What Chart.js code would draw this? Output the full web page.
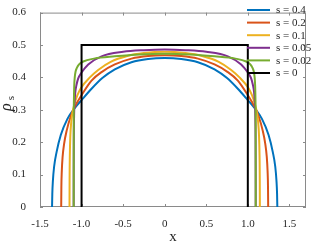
<!DOCTYPE html>
<html><head><meta charset="utf-8">
<script src="https://cdn.jsdelivr.net/npm/chart.js@4"></script>
<style>html,body{margin:0;padding:0;background:#fff;overflow:hidden}</style>
</head><body>
<canvas id="c" width="316" height="242" style="width:316px;height:242px;display:block"></canvas>
<script>
// ---- data ----
const seriesLabels = ['s = 0.4', 's = 0.2', 's = 0.1', 's = 0.05', 's = 0.02', 's = 0'];
const seriesColors = ['#0072BD', '#D95319', '#EDB120', '#7E2F8E', '#77AC30', '#000000'];

const x_s04 = [-1.355,-1.352,-1.345,-1.33,-1.30,-1.25,-1.17,-1.08,-1.0,-0.88,-0.75,-0.6,-0.4,-0.2,0,0.2,0.4,0.6,0.75,0.88,1.0,1.08,1.17,1.25,1.30,1.33,1.345,1.352,1.355];
const rho_s04 = [0,0.04,0.08,0.125,0.17,0.222,0.272,0.306,0.33,0.365,0.398,0.425,0.447,0.457,0.46,0.457,0.447,0.425,0.398,0.365,0.33,0.306,0.272,0.222,0.17,0.125,0.08,0.04,0];

const x_s02 = [-1.245,-1.243,-1.238,-1.228,-1.21,-1.18,-1.13,-1.08,-1.0,-0.88,-0.75,-0.6,-0.4,-0.2,0,0.2,0.4,0.6,0.75,0.88,1.0,1.08,1.13,1.18,1.21,1.228,1.238,1.243,1.245];
const rho_s02 = [0,0.06,0.11,0.155,0.195,0.235,0.28,0.31,0.345,0.39,0.418,0.44,0.458,0.466,0.468,0.466,0.458,0.44,0.418,0.39,0.345,0.31,0.28,0.235,0.195,0.155,0.11,0.06,0];

const x_s01 = [-1.145,-1.144,-1.141,-1.135,-1.125,-1.11,-1.085,-1.05,-1.0,-0.9,-0.8,-0.65,-0.45,-0.25,0,0.25,0.45,0.65,0.8,0.9,1.0,1.05,1.085,1.11,1.125,1.135,1.141,1.144,1.145];
const rho_s01 = [0,0.08,0.16,0.22,0.26,0.29,0.318,0.345,0.37,0.40,0.423,0.448,0.466,0.475,0.479,0.475,0.466,0.448,0.423,0.40,0.37,0.345,0.318,0.29,0.26,0.22,0.16,0.08,0];

const x_s005 = [-1.095,-1.0945,-1.093,-1.09,-1.085,-1.075,-1.06,-1.04,-1.0,-0.92,-0.76,-0.5,-0.25,0,0.25,0.5,0.76,0.92,1.0,1.04,1.06,1.075,1.085,1.09,1.093,1.0945,1.095];
const rho_s005 = [0,0.12,0.22,0.28,0.32,0.355,0.378,0.397,0.415,0.44,0.465,0.479,0.484,0.486,0.484,0.479,0.465,0.44,0.415,0.397,0.378,0.355,0.32,0.28,0.22,0.12,0];

const x_s002 = [-1.095,-1.0945,-1.094,-1.092,-1.088,-1.082,-1.072,-1.055,-1.03,-0.98,-0.85,-0.6,-0.3,0,0.3,0.6,0.85,0.98,1.03,1.055,1.072,1.082,1.088,1.092,1.094,1.0945,1.095];
const rho_s002 = [0,0.15,0.26,0.33,0.375,0.40,0.418,0.43,0.44,0.449,0.458,0.465,0.471,0.473,0.471,0.465,0.458,0.449,0.44,0.43,0.418,0.40,0.375,0.33,0.26,0.15,0];

const x_s0 = [-1, -1, 1, 1];
const rho_s0 = [0, 0.5, 0.5, 0];

const xTicks = [-1.5, -1, -0.5, 0, 0.5, 1, 1.5];
const yTicks = [0, 0.1, 0.2, 0.3, 0.4, 0.5, 0.6];
const xRange = [-1.5, 1.7];
const yRange = [0, 0.6];
// --------------------------------------

const xsAll = [x_s04, x_s02, x_s01, x_s005, x_s002, x_s0];
const ysAll = [rho_s04, rho_s02, rho_s01, rho_s005, rho_s002, rho_s0];

const FONT = "'Liberation Serif', 'Times New Roman', serif";
const AXIS = '#8a8a8a';
const TEXT = '#262626';

const datasets = seriesLabels.map((lab, i) => ({
  label: lab,
  data: xsAll[i].map((xv, k) => ({x: xv, y: ysAll[i][k]})),
  borderColor: seriesColors[i],
  backgroundColor: seriesColors[i],
  borderWidth: 2,
  showLine: true,
  pointRadius: 0,
  fill: false,
  order: seriesLabels.length - i,
  cubicInterpolationMode: i === 5 ? 'default' : 'monotone',
  tension: 0
}));

const deco = {
  id: 'deco',
  beforeDatasetsDraw(chart) {
    const {ctx, chartArea: a, scales: {x, y}} = chart;
    ctx.save();
    ctx.strokeStyle = AXIS; ctx.lineWidth = 1;
    ctx.beginPath();
    ctx.moveTo(a.left, a.top + 0.5); ctx.lineTo(a.right, a.top + 0.5);
    ctx.moveTo(a.right - 0.5, a.top); ctx.lineTo(a.right - 0.5, a.bottom);
    ctx.moveTo(a.left, a.bottom - 0.5); ctx.lineTo(a.right, a.bottom - 0.5);
    ctx.moveTo(a.left + 0.5, a.top); ctx.lineTo(a.left + 0.5, a.bottom);
    xTicks.forEach(v => {
      const px = Math.round(x.getPixelForValue(v)) + 0.5;
      ctx.moveTo(px, a.bottom); ctx.lineTo(px, a.bottom - 3);
      ctx.moveTo(px, a.top); ctx.lineTo(px, a.top + 3);
    });
    yTicks.forEach(v => {
      const py = Math.round(y.getPixelForValue(v)) + 0.5;
      ctx.moveTo(a.left, py); ctx.lineTo(a.left + 3, py);
      ctx.moveTo(a.right, py); ctx.lineTo(a.right - 3, py);
    });
    ctx.stroke();
    ctx.restore();
  },
  afterDraw(chart) {
    const {ctx, chartArea: a} = chart;
    ctx.save();
    // legend (transparent, top-right)
    ctx.font = '11px ' + FONT;
    ctx.textBaseline = 'middle';
    ctx.textAlign = 'left';
    seriesLabels.forEach((lab, i) => {
      const yy = 10 + i * 12.6;
      ctx.strokeStyle = seriesColors[i]; ctx.lineWidth = 2;
      ctx.beginPath(); ctx.moveTo(247, yy); ctx.lineTo(270, yy); ctx.stroke();
      ctx.fillStyle = TEXT;
      ctx.fillText(lab, 276, yy + 0.5);
    });
    // x title
    ctx.fillStyle = TEXT;
    ctx.textBaseline = 'alphabetic';
    ctx.textAlign = 'center';
    ctx.font = '15px ' + FONT;
    ctx.fillText('x', (a.left + a.right) / 2, 241);
    // y title  rho_s
    ctx.translate(11, 111);
    ctx.rotate(-Math.PI / 2);
    ctx.textAlign = 'left';
    ctx.font = 'italic 16px ' + FONT;
    ctx.fillText('ρ', 0, 0);
    const w = ctx.measureText('ρ').width;
    ctx.font = '11px ' + FONT;
    ctx.fillText('s', w + 3, 3);
    ctx.restore();
  }
};

new Chart(document.getElementById('c'), {
  type: 'scatter',
  data: {datasets},
  options: {
    responsive: false,
    animation: false,
    devicePixelRatio: 1,
    layout: {padding: {left: 0, right: 10, top: 5, bottom: 0}},
    plugins: {legend: {display: false}, tooltip: {enabled: false}},
    scales: {
      x: {
        type: 'linear', min: xRange[0], max: xRange[1],
        grid: {display: false}, border: {display: false},
        afterBuildTicks: s => { s.ticks = xTicks.map(v => ({value: v})); },
        afterFit: s => { s.height = 35; },
        ticks: {font: {family: FONT, size: 11}, color: TEXT, padding: 3, maxRotation: 0, autoSkip: false}
      },
      y: {
        type: 'linear', min: yRange[0], max: yRange[1],
        grid: {display: false}, border: {display: false},
        afterBuildTicks: s => { s.ticks = yTicks.map(v => ({value: v})); },
        afterFit: s => { s.width = 40; },
        ticks: {font: {family: FONT, size: 11}, color: TEXT, padding: 6, autoSkip: false}
      }
    }
  },
  plugins: [deco]
});
</script>
</body></html>
